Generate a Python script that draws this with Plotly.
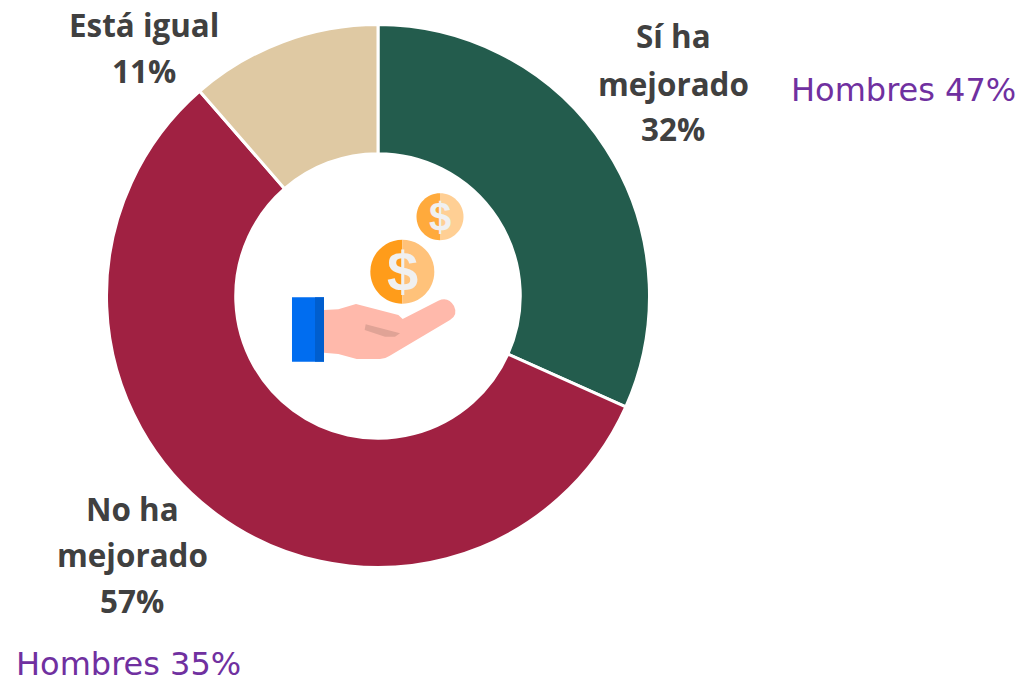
import plotly.graph_objects as go

W, H = 1021, 678
categories = ["Sí ha mejorado", "No ha mejorado", "Está igual"]
values = [31.7, 56.9, 11.4]
colors = ["#235C4D", "#A02142", "#DFC9A3"]
label_lines = [
    (["Sí ha", "mejorado", "32%"], 673, [36, 83, 129]),
    (["No ha", "mejorado", "57%"], 132, [508, 554, 600]),
    (["Está igual", "11%"], 144, [24, 70]),
]
side_notes = [("Hombres 47%", 903.5, 90), ("Hombres 35%", 128, 664)]


def X(p):
    return p / W


def Y(p):
    return 1 - p / H


def path(cmds):
    out = []
    for c in cmds:
        op, pts = c[0], c[1:]
        out.append(op + " ".join(f"{X(pts[i]):.5f},{Y(pts[i+1]):.5f}" for i in range(0, len(pts), 2)))
    return " ".join(out)


def half(cx, cy, r, side):
    k = 0.5523 * r
    s = side * r
    ks = side * k
    return path([("M", cx, cy - r), ("C", cx + ks, cy - r, cx + s, cy - k, cx + s, cy),
                 ("C", cx + s, cy + k, cx + ks, cy + r, cx, cy + r), ("Z",)])


def z(x, y):
    return (270 + x / 3, 180 + y / 3)


def zpath(seq):
    cmds = []
    for op, *pts in seq:
        flat = []
        for i in range(0, len(pts), 2):
            flat += z(pts[i], pts[i + 1])
        cmds.append((op, *flat))
    return path(cmds)


def shp(d, color):
    return dict(type="path", xref="paper", yref="paper", path=d, fillcolor=color,
                line=dict(width=0), layer="above")


big = (*z(397, 275), 32)
small = (*z(510, 110), 23.5)
hand = [("M", 162, 390), ("L", 205, 388), ("L", 258, 372), ("L", 385, 405), ("L", 398, 417), ("L", 505, 362),
        ("Q", 535, 348, 552, 378), ("Q", 565, 405, 540, 420), ("L", 358, 528), ("Q", 345, 537, 330, 537),
        ("L", 260, 537), ("L", 205, 522), ("L", 162, 518), ("Z",)]
palm = [("M", 287, 433), ("L", 390, 460), ("L", 375, 470), ("L", 345, 470), ("L", 284, 450), ("Z",)]
sleeve = [("M", 66, 352), ("L", 162, 352), ("L", 162, 545), ("L", 66, 545), ("Z",)]
cuff = [("M", 135, 352), ("L", 162, 352), ("L", 162, 545), ("L", 135, 545), ("Z",)]

shapes = [
    shp(zpath(hand), "#FFB9AB"),
    shp(zpath(palm), "#E0A396"),
    shp(zpath(sleeve), "#006DF0"),
    shp(zpath(cuff), "#005ECE"),
    shp(half(*big, -1), "#FF9C1A"),
    shp(half(*big, 1), "#FFC27A"),
    shp(half(*small, -1), "#FFAA3C"),
    shp(half(*small, 1), "#FFCF94"),
]

annotations = []
for lines, x, ys in label_lines:
    for t, y in zip(lines, ys):
        annotations.append(dict(text=f"<b>{t}</b>", x=X(x), y=Y(y), xref="paper", yref="paper", showarrow=False,
                                xanchor="center", yanchor="middle",
                                font=dict(family="Open Sans", size=31.4, color="#404040")))
for t, x, y in side_notes:
    annotations.append(dict(text=t, x=X(x), y=Y(y), xref="paper", yref="paper", showarrow=False,
                            xanchor="center", yanchor="middle",
                            font=dict(family="DejaVu Sans", size=32, color="#7030A0")))
for (cx, cy, r), size in ((big, 56), (small, 40)):
    annotations.append(dict(text="<b>$</b>", x=X(cx), y=Y(cy), xref="paper", yref="paper", showarrow=False,
                            xanchor="center", yanchor="middle",
                            font=dict(family="Liberation Sans", size=size, color="#F0F0F0")))

fig = go.Figure(go.Pie(
    labels=categories, values=values, sort=False, direction="clockwise", rotation=0, hole=0.524,
    marker=dict(colors=colors, line=dict(color="#FFFFFF", width=3)),
    textinfo="none", showlegend=False,
    domain=dict(x=[X(106.5), X(649.5)], y=[Y(567.5), Y(24.5)]),
))
fig.update_layout(width=W, height=H, autosize=False, margin=dict(l=0, r=0, t=0, b=0),
                  paper_bgcolor="#FFFFFF", showlegend=False, shapes=shapes, annotations=annotations)
fig.write_html("out.html", config={"displayModeBar": False},
               post_script="document.body.style.margin='0';document.body.style.overflow='hidden';")
